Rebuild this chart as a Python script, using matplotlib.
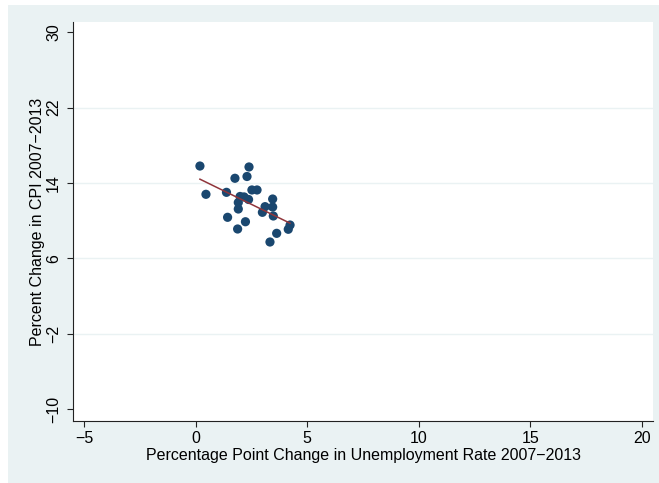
import numpy as np
import matplotlib

matplotlib.use("Agg")
import matplotlib.pyplot as plt
from matplotlib.patches import Rectangle

plt.rcParams["font.family"] = ["Liberation Sans", "DejaVu Sans"]

# change in unemployment rate (pp) vs CPI change (%), 2007-2013
unemp_change = [0.19, 2.39, 2.30, 1.76, 0.46, 1.38, 2.52, 2.75, 1.99, 2.17,
                2.37, 1.91, 1.91, 1.43, 2.23, 1.88, 2.99, 3.11, 3.45, 3.45,
                3.48, 4.23, 4.15, 3.63, 3.33]
cpi_change = [15.81, 15.71, 14.70, 14.51, 12.81, 13.02, 13.27, 13.27, 12.58, 12.53,
              12.26, 11.94, 11.25, 10.37, 9.90, 9.13, 10.90, 11.50, 12.31, 11.46,
              10.51, 9.55, 9.10, 8.67, 7.75]

x_ticks = [-5, 0, 5, 10, 15, 20]
y_ticks = [-10, -2, 6, 14, 22, 30]

BG = "#eaf2f3"
NAVY = "#1a476f"
MAROON = "#90353b"
FS = 11.5

fig = plt.figure(figsize=(6.59, 4.83), dpi=100)
fig.patch.set_facecolor(BG)
# thin white margin along the top and left edges
fig.patches.append(Rectangle((0, 1 - 5 / 483), 1, 5 / 483, transform=fig.transFigure,
                             facecolor="white", edgecolor="none"))
fig.patches.append(Rectangle((0, 0), 8 / 659, 1, transform=fig.transFigure,
                             facecolor="white", edgecolor="none"))

ax = fig.add_axes([73 / 659, 62 / 483, 580 / 659, 399 / 483])
ax.set_facecolor("white")

x = np.array(unemp_change)
y = np.array(cpi_change)

for t in y_ticks[1:-1]:
    ax.axhline(t, color=BG, linewidth=1.0, zorder=1)

ax.scatter(x, y, s=44, color=NAVY, edgecolors="none", zorder=3)

# linear fit across the observed range
slope, intercept = np.polyfit(x, y, 1)
xs = np.array([x.min(), x.max()])
ax.plot(xs, intercept + slope * xs, color=MAROON, linewidth=1.1, zorder=4)

ax.set_xlim(-5.5, 20.5)
ax.set_ylim(-11.24, 31.09)
ax.set_xticks(x_ticks)
ax.set_yticks(y_ticks)
ax.set_xticklabels([str(v).replace("-", "\u2212") for v in x_ticks])
ax.set_yticklabels([str(v).replace("-", "\u2212") for v in y_ticks],
                   rotation=90, va="center")

for spine in ("top", "right"):
    ax.spines[spine].set_visible(False)
for spine in ("left", "bottom"):
    ax.spines[spine].set_color("#222222")
    ax.spines[spine].set_linewidth(0.8)

ax.tick_params(axis="both", direction="out", length=4.5, width=0.8,
               color="#222222", labelsize=FS)
ax.tick_params(axis="x", pad=3)
ax.tick_params(axis="y", pad=4)

ax.set_xlabel("Percentage Point Change in Unemployment Rate 2007\u22122013",
              fontsize=FS, labelpad=1)
ax.set_ylabel("Percent Change in CPI 2007\u22122013", fontsize=FS, labelpad=1)

fig.savefig("out.png", dpi=100, facecolor=fig.get_facecolor())
